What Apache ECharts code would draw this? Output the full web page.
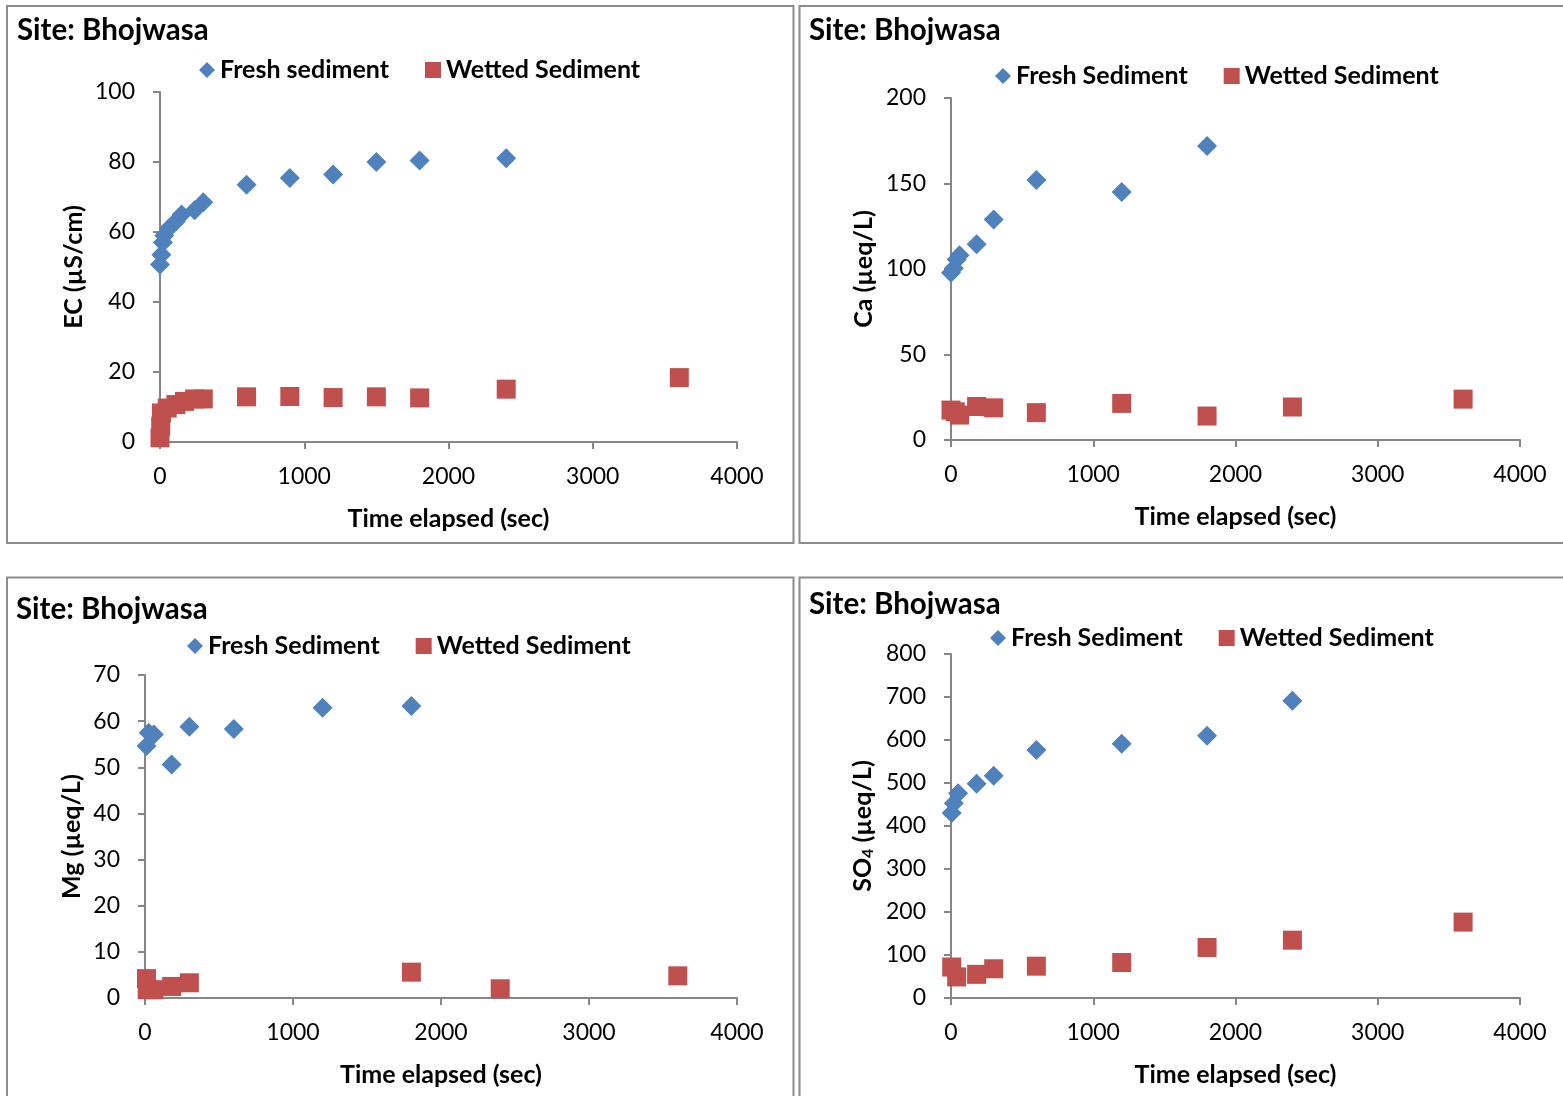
<!DOCTYPE html>
<html><head><meta charset="utf-8">
<script src="https://cdn.jsdelivr.net/npm/echarts@6/dist/echarts.min.js"></script>
<style>html,body{margin:0;padding:0;background:#fff}#c{width:1563px;height:1096px}</style>
</head><body><div id="c"></div>
<script>
// ---- data ----
const siteTitle = 'Site: Bhojwasa';
const xTicks = [0, 1000, 2000, 3000, 4000];

// EC (µS/cm)
const ecFreshT = [0, 10, 20, 30, 60, 110, 150, 240, 300, 600, 900, 1200, 1500, 1800, 2400];
const ecFreshV = [50.7, 53.5, 57, 59, 61, 63, 65, 66.2, 68.5, 73.5, 75.4, 76.4, 80, 80.4, 81.1];
const ecWetT = [0, 5, 10, 50, 110, 170, 240, 300, 600, 900, 1200, 1500, 1800, 2400, 3600];
const ecWetV = [1.2, 4.5, 8.3, 9.7, 10.7, 11.6, 12.3, 12.3, 12.9, 13.0, 12.7, 12.9, 12.6, 15.1, 18.4];

// Ca (µeq/L)
const caFreshT = [0, 20, 40, 60, 180, 300, 600, 1200, 1800];
const caFreshV = [97.8, 100.5, 105.5, 108, 114.5, 129, 152, 145, 172];
const caWetT = [0, 30, 60, 180, 300, 600, 1200, 1800, 2400, 3600];
const caWetV = [17.5, 16.5, 14.6, 19.6, 18.8, 16, 21.4, 14, 19.3, 23.9];

// Mg (µeq/L)
const mgFreshT = [10, 25, 60, 180, 300, 600, 1200, 1800];
const mgFreshV = [54.6, 57.5, 57.1, 50.6, 58.8, 58.3, 62.9, 63.3];
const mgWetT = [10, 15, 60, 180, 300, 1800, 2400, 3600];
const mgWetV = [4.2, 1.8, 1.8, 2.5, 3.3, 5.6, 2.0, 4.8];

// SO4 (µeq/L)
const so4FreshT = [5, 20, 50, 180, 300, 600, 1200, 1800, 2400];
const so4FreshV = [430, 453, 476, 498, 517, 577, 591, 610, 691];
const so4WetT = [5, 40, 180, 300, 600, 1200, 1800, 2400, 3600];
const so4WetV = [72, 49, 55, 68, 74, 82.5, 117.5, 134.5, 176.5];

const pair = (t, v) => t.map((x, i) => [x, v[i]]);

// ---- layout ----
const FONT = 'Lato, "Open Sans", sans-serif';
const BLUE = '#4F81BD', RED = '#C0504D', AXIS = '#868686';

const panels = [
  {grid:{left:160, top:92, width:577, height:350}, yMax:100, yInt:20, yName:'EC (µS/cm)', nameGapY:74,
   fresh:pair(ecFreshT, ecFreshV), wet:pair(ecWetT, ecWetV), fName:'Fresh sediment'},
  {grid:{left:951, top:98, width:569, height:342}, yMax:200, yInt:50, yName:'Ca (µeq/L)', nameGapY:75,
   fresh:pair(caFreshT, caFreshV), wet:pair(caWetT, caWetV), fName:'Fresh Sediment'},
  {grid:{left:145, top:675, width:592, height:323}, yMax:70, yInt:10, yName:'Mg (µeq/L)', nameGapY:61,
   fresh:pair(mgFreshT, mgFreshV), wet:pair(mgWetT, mgWetV), fName:'Fresh Sediment'},
  {grid:{left:951, top:654, width:569, height:344}, yMax:800, yInt:100, yName:'{a|SO}{s|4}{a| (µeq/L)}', nameGapY:75,
   fresh:pair(so4FreshT, so4FreshV), wet:pair(so4WetT, so4WetV), fName:'Fresh Sediment'}
];

const legendPos = [
  {left:199, top:57.5}, {left:995, top:63.5}, {left:187, top:633.5}, {left:990, top:625.5}
];
const titlePos = [[17, 30], [809, 30], [16, 609], [809, 604]];

const grids = [], xAxes = [], yAxes = [], series = [], legends = [];
panels.forEach((p, i) => {
  grids.push(Object.assign({containLabel:false}, p.grid));
  xAxes.push({
    type:'value', gridIndex:i, min:xTicks[0], max:xTicks[xTicks.length-1], interval:xTicks[1]-xTicks[0],
    name:'Time elapsed (sec)', nameLocation:'middle', nameGap:64,
    nameTextStyle:{fontFamily:FONT, fontSize:25, fontWeight:'bold', color:'#000'},
    axisLine:{show:true, lineStyle:{color:AXIS, width:2}},
    axisTick:{show:true, inside:false, length:7, lineStyle:{color:AXIS, width:2}},
    axisLabel:{fontFamily:FONT, fontSize:23, color:'#000', margin:23, formatter:v => String(v)},
    splitLine:{show:false}
  });
  yAxes.push({
    type:'value', gridIndex:i, min:0, max:p.yMax, interval:p.yInt,
    name:p.yName, nameLocation:'middle', nameGap:p.nameGapY, nameRotate:90,
    nameTextStyle:{fontFamily:FONT, fontSize:25, fontWeight:'bold', color:'#000',
      rich:{a:{fontFamily:FONT, fontSize:25, fontWeight:'bold', color:'#000'},
            s:{fontFamily:FONT, fontSize:16, fontWeight:'bold', color:'#000', padding:[11,0,0,0]}}},
    axisLine:{show:true, lineStyle:{color:AXIS, width:2}},
    axisTick:{show:true, inside:false, length:7, lineStyle:{color:AXIS, width:2}},
    axisLabel:{fontFamily:FONT, fontSize:23, color:'#000', margin:25, formatter:v => String(v)},
    splitLine:{show:false}
  });
  series.push({
    type:'scatter', name:p.fName, xAxisIndex:i, yAxisIndex:i, data:p.fresh,
    symbol:'diamond', symbolSize:20, itemStyle:{color:BLUE, opacity:1}, z:3
  });
  series.push({
    type:'scatter', name:'Wetted Sediment', xAxisIndex:i, yAxisIndex:i, data:p.wet,
    symbol:'rect', symbolSize:19, itemStyle:{color:RED, opacity:1}, z:2
  });
  legends.push(Object.assign({
    orient:'horizontal', itemWidth:16, itemHeight:16, itemGap:36, padding:0,
    data:[{name:p.fName, icon:'diamond'}, {name:'Wetted Sediment', icon:'rect'}],
    textStyle:{fontFamily:FONT, fontSize:25, fontWeight:'bold', color:'#000'},
    selectedMode:false
  }, legendPos[i]));
});

const graphics = [
  {type:'rect', shape:{x:7, y:6, width:786.5, height:537}, style:{fill:null, stroke:'#8c8c8c', lineWidth:2}, silent:true},
  {type:'rect', shape:{x:799.5, y:6, width:775, height:537}, style:{fill:null, stroke:'#8c8c8c', lineWidth:2}, silent:true},
  {type:'rect', shape:{x:7, y:577.5, width:786.5, height:530}, style:{fill:null, stroke:'#8c8c8c', lineWidth:2}, silent:true},
  {type:'rect', shape:{x:799.5, y:577.5, width:775, height:530}, style:{fill:null, stroke:'#8c8c8c', lineWidth:2}, silent:true}
];
titlePos.forEach(tp => graphics.push({
  type:'text', x:tp[0], y:tp[1],
  style:{text:siteTitle, fontFamily:FONT, fontSize:29.5, fontWeight:'bold', fill:'#000', verticalAlign:'middle'}, silent:true
}));

const chart = echarts.init(document.getElementById('c'), null, {renderer:'canvas'});
chart.setOption({
  animation:false,
  backgroundColor:'#fff',
  grid:grids, xAxis:xAxes, yAxis:yAxes, series:series, legend:legends, graphic:graphics
});
</script></body></html>
